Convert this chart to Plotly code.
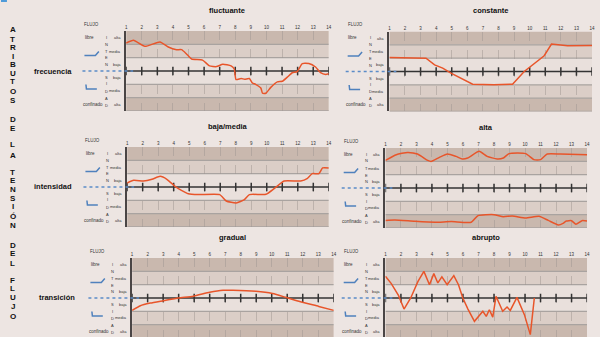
import plotly.graph_objects as go

# ---------------- data ----------------
flujo_ticks = list(range(1, 15))
tick_text = [str(v) for v in flujo_ticks]
band_labels = ["alta", "media", "baja", "baja", "media", "alta"]

fluct_x = [1, 1.47, 2.2, 3.17, 3.7, 4.23, 4.55, 4.87, 5.2, 5.9, 6.35, 6.8, 7.2, 7.73, 7.94, 8.05,
           8.37, 8.6, 8.9, 9.1, 9.3, 9.64, 9.75, 9.96, 10.28, 10.7, 11.02, 11.34, 11.66, 11.97,
           12.3, 12.72, 13.15, 13.47, 13.8, 14]
fluct_y = [2.1, 2.3, 1.85, 2.18, 1.8, 1.6, 1.6, 1.28, 0.9, 0.82, 0.38, 0.33, 0.51, 0.38, 0.13, -0.64,
           -0.56, -0.62, -0.56, -0.9, -1.0, -1.28, -1.67, -1.67, -1.23, -0.82, -0.77, -0.46, -0.13, -0.05,
           0.56, 0.56, 0.3, -0.13, -0.26, -0.2]

const_x = [1, 3.35, 3.9, 4.42, 4.95, 5.6, 6.34, 7.7, 8.9, 9.65, 10.2, 10.93, 11.4, 12.43, 14]
const_y = [1.05, 1.0, 0.5, 0.25, -0.12, -0.5, -0.95, -1.0, -0.95, 0, 0.5, 1.18, 2.06, 1.93, 1.95]

bm_x = [1, 1.42, 2.05, 2.6, 3.13, 3.56, 4.09, 4.5, 4.94, 5.58, 6.97, 7.39, 8.03, 8.56, 8.88, 9.95,
        10.48, 11.12, 12.19, 12.6, 12.93, 13.36, 13.6, 14]
bm_y = [0.3, 0.5, 0.45, 0.58, 0.8, 0.58, 0.05, -0.25, -0.5, -0.57, -0.57, -1.05, -1.2, -0.95, -0.57, -0.55,
        -0.12, 0.45, 0.45, 0.63, 1.0, 1.0, 1.43, 1.43]

alta_up_x = [1, 1.7, 2.43, 3.07, 3.73, 3.94, 4.48, 5.0, 5.55, 5.96, 6.3, 7.04, 7.56, 8.2, 8.6, 8.97,
             10.04, 10.57, 11.0, 11.43, 12.28, 14]
alta_up_y = [2.07, 2.5, 2.67, 2.55, 2.07, 1.99, 2.3, 2.55, 2.37, 2.18, 2.25, 2.75, 2.37, 2.18, 2.25, 2.58,
             2.58, 2.13, 2.13, 2.55, 2.55, 2.5]
alta_lo_x = [1, 1.6, 2.9, 4.2, 5.25, 6.53, 6.97, 8.0, 8.6, 9.18, 10.04, 10.9, 11.5, 12.15, 12.45, 12.66,
             13.0, 13.28, 13.67, 14]
alta_lo_y = [-2.43, -2.4, -2.5, -2.57, -2.52, -2.57, -2.07, -2.0, -2.15, -2.1, -2.25, -2.12, -2.43, -2.77,
             -2.65, -2.48, -2.45, -2.72, -2.45, -2.48]

grad_x = [1, 1.53, 2.17, 3.02, 3.98, 4.94, 6.0, 6.86, 7.5, 8.98, 10.05, 10.9, 11.75, 13.03, 14]
grad_y = [-0.93, -0.58, -0.38, -0.2, 0, 0.13, 0.43, 0.58, 0.58, 0.5, 0.33, 0.05, -0.25, -0.63, -0.93]

abr_x = [1, 1.38, 1.85, 2.2, 2.63, 3.1, 3.48, 3.84, 4.12, 4.38, 4.64, 4.98, 5.41, 5.71, 5.99, 6.32,
         6.74, 7.28, 7.5, 7.7, 7.92, 8.13, 8.56, 8.84, 9.05, 9.48, 9.96, 10.34, 10.6]
abr_y = [1.63, 1.08, 0.18, -0.83, 0, 1.25, 2.0, 1.0, 1.83, 1.13, 1.58, 1.0, 1.68, 1.0, 0, -0.83,
         -1.75, -1.0, -1.38, -0.88, -1.43, 0.13, -1.0, -0.68, -0.93, 0.05, -1.25, -2.75, 0]

# ---------------- styles ----------------
W, H = 600, 337
BG = "#ede5e2"
DARK, MID, LIGHT = "#c9b8ae", "#dbcec7", "#e9e0dc"
SEP = "#a9a3a0"
RED = "#e8552a"
BLUE = "#4f81bd"
FONT = "Arial, Liberation Sans, sans-serif"
PXU = 13.33  # px per band

panels = [
    dict(title="fluctuante", L=126, R=330, A=71, series=[(fluct_x, fluct_y, "spline")]),
    dict(title="constante", L=391, R=595, A=71.5, series=[(const_x, const_y, "linear")]),
    dict(title="baja/media", L=127, R=330, A=187, series=[(bm_x, bm_y, "spline")]),
    dict(title="alta", L=387, R=590, A=188, series=[(alta_up_x, alta_up_y, "spline"),
                                                     (alta_lo_x, alta_lo_y, "spline")]),
    dict(title="gradual", L=132, R=335, A=298, series=[(grad_x, grad_y, "spline")]),
    dict(title="abrupto", L=387, R=590, A=298, series=[(abr_x, abr_y, "linear")]),
]


def px(x):
    return x / W


def py(y):
    return 1 - y / H


fig = go.Figure()
shapes, annos = [], []
layout = dict(width=W, height=H, margin=dict(l=0, r=0, t=0, b=0), paper_bgcolor=BG,
              plot_bgcolor=BG, showlegend=False, font=dict(family=FONT, color="#222"))

for i, p in enumerate(panels, start=1):
    L, R, A = p["L"], p["R"], p["A"]
    top = A - 3 * PXU
    bot = min(A + 3 * PXU, H)
    ylo = -(bot - A) / PXU
    xa, ya = f"x{i}" if i > 1 else "x", f"y{i}" if i > 1 else "y"
    xk, yk = f"xaxis{i}" if i > 1 else "xaxis", f"yaxis{i}" if i > 1 else "yaxis"
    layout[xk] = dict(domain=[px(L), px(R)], range=[1, 14], anchor=ya, side="top",
                      tickvals=flujo_ticks, ticktext=tick_text, tickfont=dict(size=4.5, color="#333"),
                      ticks="", showgrid=True, gridcolor="rgba(160,150,146,0.5)", griddash="dash",
                      gridwidth=0.8, zeroline=False, showline=False, fixedrange=True)
    layout[yk] = dict(domain=[py(bot), py(top)], range=[ylo, 3], anchor=xa, showgrid=False,
                      showticklabels=False, ticks="", zeroline=False, showline=True,
                      linecolor="#4a4545", linewidth=2, fixedrange=True)
    # bands
    for (y0, y1, c) in [(2, 3, DARK), (1, 2, MID), (0, 1, LIGHT), (-1, 0, LIGHT), (-2, -1, MID), (-3, -2, DARK)]:
        shapes.append(dict(type="rect", xref=xa, yref=ya, x0=1, x1=14, y0=y0, y1=y1,
                           fillcolor=c, line_width=0, layer="below"))
    for yv in [2, 1, -1, -2, -3]:
        shapes.append(dict(type="line", xref=xa, yref=ya, x0=1, x1=14, y0=yv, y1=yv,
                           line=dict(color=SEP, width=1.3), layer="below"))
    # blue dotted guide and icons
    shapes.append(dict(type="line", xref="paper", yref="paper", x0=px(L - 44), x1=px(L + 7),
                       y0=py(A), y1=py(A), line=dict(color="#5b8cc8", width=1.5, dash="dot")))
    shapes.append(dict(type="path", xref="paper", yref="paper",
                       path=f"M {px(L-42)} {py(A-15.5)} L {px(L-31)} {py(A-15.5)} L {px(L-27.5)} {py(A-19.5)}",
                       line=dict(color=BLUE, width=1.5)))
    shapes.append(dict(type="path", xref="paper", yref="paper",
                       path=f"M {px(L-40.5)} {py(A+13.5)} L {px(L-40)} {py(A+18)} L {px(L-29.5)} {py(A+18)}",
                       line=dict(color=BLUE, width=1.5)))
    # axis line with ticks
    fig.add_trace(go.Scatter(x=flujo_ticks, y=[0] * len(flujo_ticks), xaxis=xa, yaxis=ya,
                             mode="lines+markers", line=dict(color="#333", width=1.5),
                             marker=dict(symbol="line-ns", size=6, line=dict(color="#333", width=1.5)),
                             hoverinfo="skip"))
    for sx, sy, shp in p["series"]:
        fig.add_trace(go.Scatter(x=sx, y=sy, xaxis=xa, yaxis=ya, mode="lines",
                                 line=dict(color=RED, width=1.5, shape=shp, smoothing=0.5)))
    # texts
    annos.append(dict(text=f"<b>{p['title']}</b>", x=px((L + R) / 2), y=py(A - 61), xref="paper",
                      yref="paper", showarrow=False, font=dict(size=7.5, color="#111"),
                      xanchor="center", yanchor="middle"))
    small = dict(xref="paper", yref="paper", showarrow=False, font=dict(size=4.5, color="#333"),
                 yanchor="middle")
    tiny = dict(xref="paper", yref="paper", showarrow=False, font=dict(size=4, color="#333"),
                yanchor="middle")
    annos.append(dict(text="FLUJO", x=px(L - 34.5), y=py(A - 47), xanchor="center", **small))
    annos.append(dict(text="libre", x=px(L - 37), y=py(A - 34), xanchor="center", **small))
    annos.append(dict(text="confinado", x=px(L - 33.5), y=py(A + 33), xanchor="center", **small))
    band_centers = [-2.5, -1.5, -0.5, 0.5, 1.5, 2.5]
    for lab, bc in zip(band_labels, band_centers):
        annos.append(dict(text=lab, x=px(L - 3), y=py(A + bc * PXU), xanchor="right", **tiny))
    letters_top = ["I", "N", "T", "E", "N"]
    off_top = [-34, -27, -20, -13, -6.5]
    letters_bot = ["S", "I", "D", "A", "D"]
    off_bot = [6.5, 13, 20, 27, 34]
    for ch, o in zip(letters_top + letters_bot, off_top + off_bot):
        annos.append(dict(text=ch, x=px(L - 19.5), y=py(A + o), xanchor="center", **tiny))

# big vertical title
big_letters = [("A", 30), ("T", 39), ("R", 47.5), ("I", 56.5), ("B", 64.5), ("U", 73), ("T", 82), ("O", 91),
               ("S", 100), ("D", 119), ("E", 128), ("L", 144), ("A", 155), ("T", 172), ("E", 180),
               ("N", 189), ("S", 198), ("I", 206.5), ("Ó", 216), ("N", 225), ("D", 245), ("E", 253),
               ("L", 263), ("F", 280), ("L", 288), ("U", 297), ("J", 306), ("O", 316)]
for ch, yy in big_letters:
    annos.append(dict(text=f"<b>{ch}</b>", x=px(12), y=py(yy), xref="paper", yref="paper",
                      showarrow=False, font=dict(size=8, color="#111"), xanchor="center", yanchor="middle"))

row_labels = [("frecuencia", 52, 71), ("intensidad", 52, 186), ("transición", 56, 297)]
for txt, xx, yy in row_labels:
    annos.append(dict(text=f"<b>{txt}</b>", x=px(xx), y=py(yy), xref="paper", yref="paper",
                      showarrow=False, font=dict(size=7.5, color="#111"), xanchor="center", yanchor="middle"))

shapes.append(dict(type="rect", xref="paper", yref="paper", x0=0, x1=px(6), y0=py(2), y1=1,
                   fillcolor="#4f9bd9", line_width=0))

layout["shapes"] = shapes
layout["annotations"] = annos
fig.update_layout(**layout)
fig.write_html("out.html")
